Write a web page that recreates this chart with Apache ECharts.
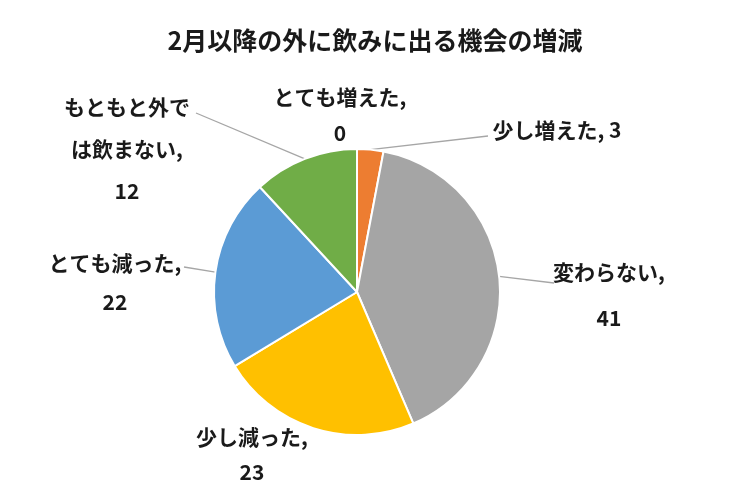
<!DOCTYPE html>
<html><head><meta charset="utf-8">
<script src="https://cdn.jsdelivr.net/npm/echarts@6/dist/echarts.min.js"></script>
<style>html,body{margin:0;padding:0;background:#fff}#c{width:750px;height:500px}</style>
</head><body><div id="c"></div>
<script>
const categories = ['とても増えた','少し増えた','変わらない','少し減った','とても減った','もともと外では飲まない'];
const values = [0, 3, 41, 23, 22, 12];
const colors = ['#5B9BD5','#ED7D31','#A5A5A5','#FFC000','#5B9BD5','#70AD47'];
const displayNames = ['とても増えた,','少し増えた,','変わらない,','少し減った,','とても減った,','もともと外で\nは飲まない,'];
// label placement (label centres, px), line heights, leader-line end at the label
const labelPos = [[340,115],[557,130],[609,295],[252,455],[115,283],[127,149]];
const labelLH = [36,20,46,35,39,42];
const lineEnd = [null,[488,136],[554,283],null,[184,267],[196,113]];

const chart = echarts.init(document.getElementById('c'));
const FONT = '"Noto Sans CJK JP", sans-serif';
chart.setOption({
  animation:false,
  title:{text:'2月以降の外に飲みに出る機会の増減',left:'center',top:23,
    textStyle:{fontFamily:FONT,fontSize:25,fontWeight:'bold',color:'#1a1a1a'}},
  series:[{
    type:'pie',
    center:[357,292],
    radius:143,
    startAngle:90,
    clockwise:true,
    minAngle:0,
    avoidLabelOverlap:false,
    itemStyle:{borderColor:'#fff',borderWidth:2},
    data: categories.map((n,i)=>({
      name:n, value:values[i], itemStyle:{color:colors[i]},
      label:{lineHeight:labelLH[i]},
      labelLine:{show:!!lineEnd[i]}
    })),
    label:{
      show:true, position:'outside',
      fontFamily:FONT, fontSize:21, fontWeight:'bold', color:'#1a1a1a',
      align:'center',
      formatter:p=> p.dataIndex===1 ? displayNames[1]+' '+p.value : displayNames[p.dataIndex]+'\n'+p.value
    },
    labelLine:{length:10,length2:10,lineStyle:{color:'#a6a6a6',width:1.3}},
    labelLayout:p=>{
      const i=p.dataIndex;
      const r={x:labelPos[i][0], y:labelPos[i][1], align:'center', verticalAlign:'middle'};
      if(lineEnd[i] && p.labelLinePoints) r.labelLinePoints=[p.labelLinePoints[0], lineEnd[i]];
      return r;
    }
  }]
});
</script></body></html>
